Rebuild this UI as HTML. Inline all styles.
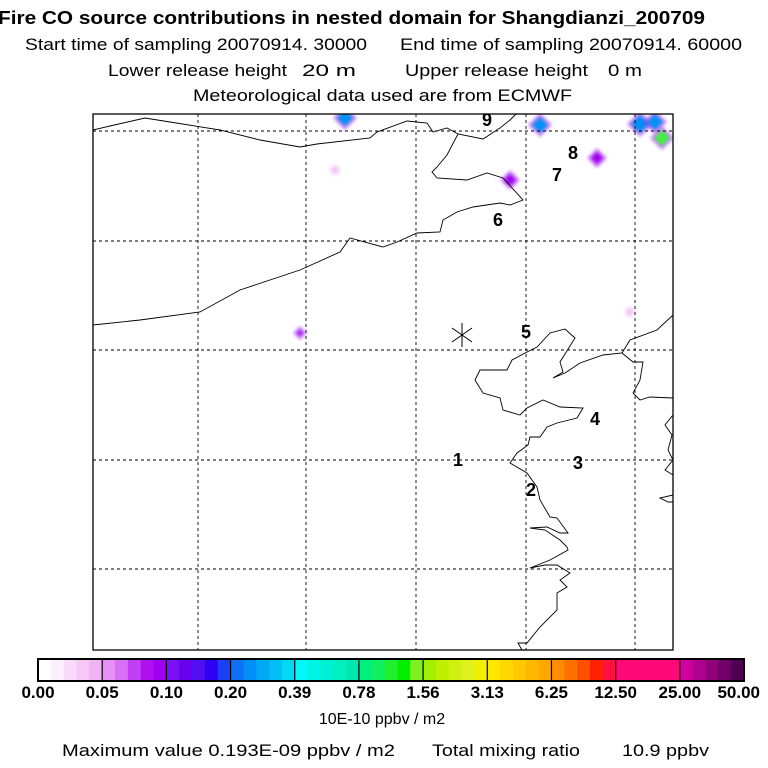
<!DOCTYPE html>
<html><head><meta charset="utf-8"><style>
html,body{margin:0;padding:0;background:#fff;}
svg{display:block;font-family:"Liberation Sans",Arial,sans-serif;}
</style></head><body>
<svg id="chart" width="768" height="768" viewBox="0 0 768 768">
<g>
<text x="-2" y="24" font-size="18" font-weight="bold" textLength="707" lengthAdjust="spacingAndGlyphs">Fire CO source contributions in nested domain for Shangdianzi_200709</text>
<text x="25" y="50" font-size="17" textLength="342" lengthAdjust="spacingAndGlyphs">Start time of sampling 20070914. 30000</text>
<text x="400" y="50" font-size="17" textLength="342" lengthAdjust="spacingAndGlyphs">End time of sampling 20070914. 60000</text>
<text x="108" y="76" font-size="17" textLength="179" lengthAdjust="spacingAndGlyphs">Lower release height</text>
<text x="302" y="76" font-size="17" textLength="54" lengthAdjust="spacingAndGlyphs">20 m</text>
<text x="405" y="76" font-size="17" textLength="183" lengthAdjust="spacingAndGlyphs">Upper release height</text>
<text x="608" y="76" font-size="17" textLength="34" lengthAdjust="spacingAndGlyphs">0 m</text>
<text x="193" y="101" font-size="17" textLength="379" lengthAdjust="spacingAndGlyphs">Meteorological data used are from ECMWF</text>
</g>
<defs><clipPath id="plotclip"><rect x="93" y="114" width="580" height="536"/></clipPath>
<filter id="soft" x="-50%" y="-50%" width="200%" height="200%"><feGaussianBlur stdDeviation="1.5"/></filter></defs>
<g id="plot" clip-path="url(#plotclip)"></g>
<rect x="93" y="114" width="580" height="536" fill="none" stroke="#000" stroke-width="1.3"/>
<g id="cbar"></g>
<text x="382" y="724" font-size="16" text-anchor="middle">10E-10 ppbv / m2</text>
<text x="62" y="756" font-size="17" textLength="333" lengthAdjust="spacingAndGlyphs">Maximum value  0.193E-09 ppbv / m2</text>
<text x="432" y="756" font-size="17" textLength="148" lengthAdjust="spacingAndGlyphs">Total mixing ratio</text>
<text x="622" y="756" font-size="17" textLength="87" lengthAdjust="spacingAndGlyphs">10.9 ppbv</text>
</svg>
<script>
const NS="http://www.w3.org/2000/svg";
const levelLabels=["0.00","0.05","0.10","0.20","0.39","0.78","1.56","3.13","6.25","12.50","25.00","50.00"];
const segColors=[
["#ffffff","#fdeefd","#f9dcf9","#f5c8f7","#f0b4f5"],
["#e890f5","#d870f5","#c040f5","#b010f0","#a000f0"],
["#7a10f5","#6a00f0","#5010f0","#3000f5","#1a40f5"],
["#1070f5","#0090f5","#00a8f5","#00c0f5","#00d8f5"],
["#00f8f8","#00f5e5","#00f0d5","#00f0c0","#00e8b0"],
["#00f080","#10f060","#20f030","#00f000","#80f020"],
["#a0f000","#c0f000","#d0f010","#e0f020","#f0f000"],
["#ffe800","#ffd800","#ffc800","#ffb800","#ffa800"],
["#ff8c00","#ff7000","#ff5000","#ff2000","#ff1040"],
["#ff0878","#ff0878","#ff0878","#ff0878","#ff0878"],
["#d000a0","#b00090","#900078","#700068","#500050"]];
const sourceLabels=["1","2","3","4","5","6","7","8","9"];
const labelLon=[458,531,578,595,526,498,557,573,487];
const labelLat=[466,496,469,425,338,226,181,159,126];
const hotspotX=[345,540,510,597,640,655,662,300,335,630];
const hotspotY=[118,125,180,158,124,122,138,333,170,312];
const hotspotLevel=[3,3,1,1,3,3,5,1,0,0];
const hotspotSize=[8,8,6,6,9,8,8,3,3,3];

function mk(tag,attrs,parent){const e=document.createElementNS(NS,tag);for(const k in attrs)e.setAttribute(k,attrs[k]);parent.appendChild(e);return e;}
const plot=document.getElementById('plot');
const hsColors=["#f0b4f5","#a000f0","#3000f5","#0090f5","#00d8f5","#40f040"];
hotspotX.forEach((x,i)=>{
  const s=hotspotSize[i],y=hotspotY[i],lv=hotspotLevel[i];
  const outer=mk('polygon',{points:`${x},${y-s-4} ${x+s+4},${y} ${x},${y+s+4} ${x-s-4},${y}`,fill:lv>0?"#a020f0":"#f5c8f7",opacity:0.55,filter:"url(#soft)"},plot);
  
  
  const inner=mk('polygon',{points:`${x},${y-s} ${x+s},${y} ${x},${y+s} ${x-s},${y}`,fill:hsColors[lv],filter:"url(#soft)"},plot);
  
  
});
const coasts=[
"93,130 110,126 145,118 170,122 220,130 260,140 300,147 317,144 370,138 377,132 407,121 427,123 433,132 447,128 458,134 483,139 500,128 510,120 513,117 520,110",
"458,134 447,155 437,167 432,172 437,178 467,180 487,173 503,178 523,200 510,205 500,203 473,207 457,212 443,220 440,232 417,233 397,242 383,247 350,238 340,252 300,270 240,290 200,312 140,320 93,325",
"680,305 673,315 657,330 630,340 622,353 603,355 580,363 565,373 553,378 563,372 560,362 575,338 565,329 550,333 537,347 527,352 512,360 507,370 480,370 475,380 483,393 500,398 503,410 520,415 527,408 543,400 560,407 583,408 577,418 557,423 547,427 540,437 530,437 528,445 517,453 510,463 527,473 537,487 540,500 550,517 557,518 568,533 560,533 547,527 530,528",
"530,528 545,530 560,540 567,547 568,550 550,560 530,568 545,565 557,565 570,573 560,580 567,587 557,593 557,610 540,627 527,643 518,643 523,652",
"622,353 633,362 643,362 640,380 633,393 640,400 650,397 673,398",
"673,415 665,425 672,435 668,450 673,460 665,470 673,475",
"673,495 660,498 668,502 673,502"];
coasts.forEach(p=>{const l=mk('polyline',{points:p,fill:"none",stroke:"#000","stroke-width":0.9},plot);

});
[198,306,416,526,635].forEach(x=>{const l=mk('line',{x1:x,y1:114,x2:x,y2:650,stroke:"#000","stroke-width":0.9,"stroke-dasharray":"3,3"},plot);

});
[131,241,350,460,569].forEach(y=>{const l=mk('line',{x1:93,y1:y,x2:673,y2:y,stroke:"#000","stroke-width":0.9,"stroke-dasharray":"3,3"},plot);

});
const star=mk('g',{stroke:"#000","stroke-width":1},plot);


[[0,-12],[10,-7],[10,7]].forEach(([dx,dy])=>mk('line',{x1:462-dx,y1:335-dy,x2:462+dx,y2:335+dy},star));
mk('line',{x1:462,y1:323,x2:462,y2:347},star);
sourceLabels.forEach((t,i)=>{const e=mk('text',{x:labelLon[i],y:labelLat[i],"font-size":18,"font-weight":"bold","text-anchor":"middle"},plot);e.textContent=t;

});
const cb=document.getElementById('cbar');
const x0=38,x1=744,cy=659,ch=22,sw=(x1-x0)/segColors.length;
segColors.forEach((cols,i)=>{cols.forEach((c,j)=>{const r=mk('rect',{x:x0+i*sw+j*sw/cols.length,y:cy,width:sw/cols.length+0.6,height:ch,fill:c},cb);

});
if(i>0){const l=mk('line',{x1:x0+i*sw,y1:cy,x2:x0+i*sw,y2:cy+ch,stroke:"#000","stroke-width":1.2},cb);

}});
const fr=mk('rect',{x:x0,y:cy,width:x1-x0,height:ch,fill:"none",stroke:"#000","stroke-width":2},cb);


levelLabels.forEach((t,i)=>{let x=x0+i*sw;let anchor="middle";if(i===levelLabels.length-1){x=x1+16;anchor="end";}
const e=mk('text',{x:x,y:698,"font-size":17,"font-weight":"bold","text-anchor":anchor},cb);e.textContent=t;

});
</script>
</body></html>
